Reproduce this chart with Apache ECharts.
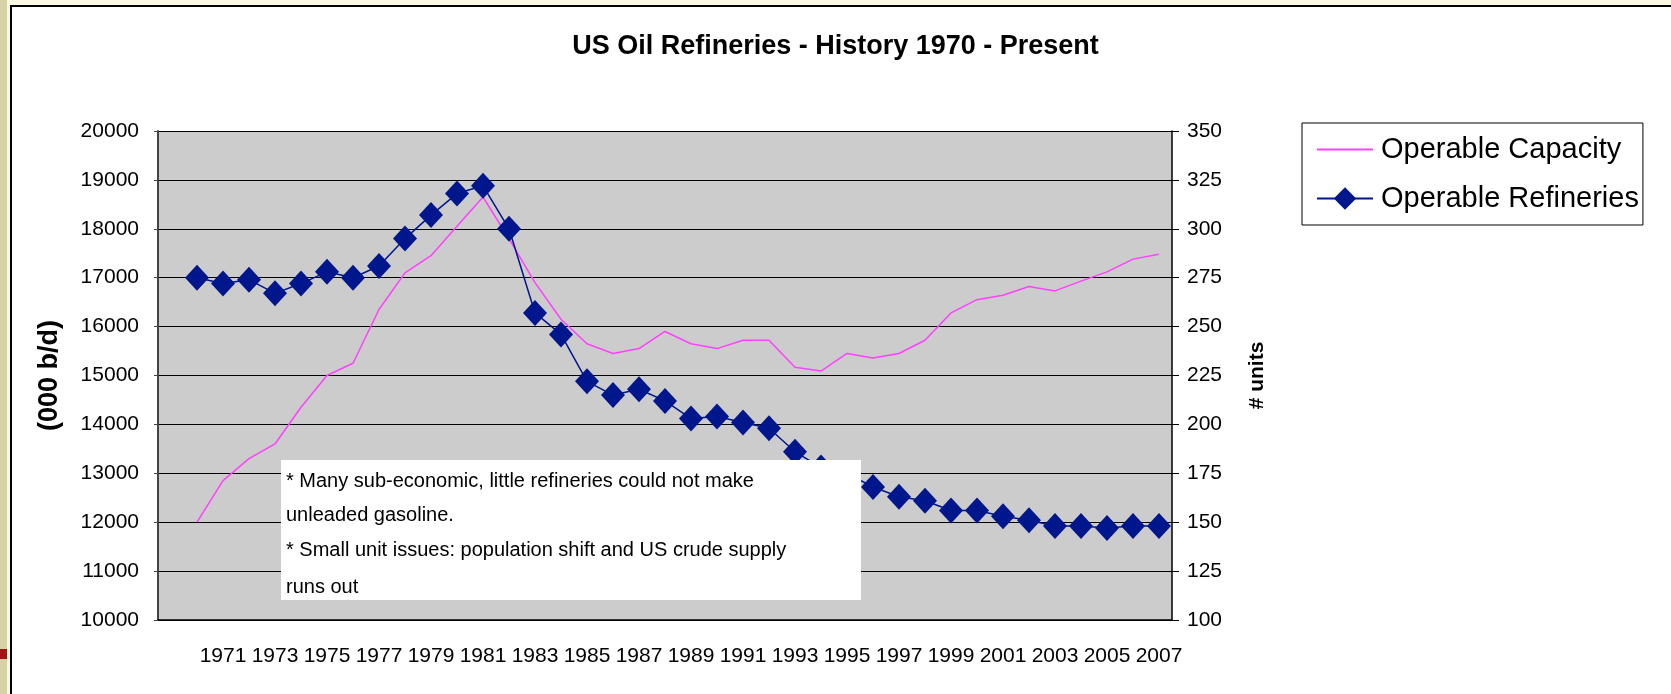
<!DOCTYPE html>
<html>
<head>
<meta charset="utf-8">
<title>US Oil Refineries - History 1970 - Present</title>
<script src="https://cdn.jsdelivr.net/npm/echarts@6/dist/echarts.min.js"></script>
<style>
    html, body { margin: 0; padding: 0; background: #fbf8e1; }
    #main { width: 1671px; height: 694px; }
</style>
</head>
<body>
<div id="main"></div>
<script>
// data
var years = ['1970', '1971', '1972', '1973', '1974', '1975', '1976', '1977', '1978', '1979',
    '1980', '1981', '1982', '1983', '1984', '1985', '1986', '1987', '1988', '1989',
    '1990', '1991', '1992', '1993', '1994', '1995', '1996', '1997', '1998', '1999',
    '2000', '2001', '2002', '2003', '2004', '2005', '2006', '2007'];

// operable capacity, 000 b/d (left axis)
var capacity = [12000, 12850, 13300, 13600, 14350, 15000, 15250, 16350, 17100, 17450,
    18050, 18650, 17800, 16900, 16150, 15650, 15450, 15550, 15900, 15650,
    15550, 15720, 15720, 15170, 15090, 15450, 15360, 15450, 15720, 16280,
    16550, 16640, 16820, 16730, 16930, 17120, 17380, 17480];

// operable refineries, # units (right axis)
var refineries = [275, 272, 274, 267, 272, 278, 275, 281, 295, 307,
    318, 322, 300, 257, 246, 222, 215, 218, 212, 203,
    204, 201, 198, 186, 178, 175, 168, 163, 161, 156,
    156, 153, 151, 148, 148, 147, 148, 148];

var noteLines = [
    '* Many sub-economic, little refineries could not make',
    'unleaded gasoline.',
    '* Small unit issues: population shift and US crude supply',
    'runs out'
];

function initChart() {
    var myChart = echarts.init(document.getElementById('main'));

    // excel leaves an empty slot before the first year
    var cats = [''].concat(years);
    var capData = [null].concat(capacity);
    var refData = [null].concat(refineries);

    var font = 'Liberation Sans, Arial, sans-serif';

    var noteText = noteLines.map(function (t, i) {
        return {
            type: 'text',
            left: 286,
            top: [471, 505, 540, 577][i],
            z: 101,
            style: { text: t, fill: '#000', font: '20px ' + font }
        };
    });

    var plain = function (v) { return String(v); };

    var option = {
        backgroundColor: '#fbf8e1',
        animation: false,
        title: {
            text: 'US Oil Refineries - History 1970 - Present',
            left: 'center',
            top: 33,
            padding: 0,
            textStyle: { fontFamily: font, fontWeight: 'bold', fontSize: 27, color: '#000' }
        },
        legend: {
            orient: 'vertical',
            left: 1302,
            top: 123,
            padding: [12, 4, 12, 14],
            itemGap: 20,
            itemWidth: 56,
            itemHeight: 28,
            borderColor: '#000',
            borderWidth: 1,
            backgroundColor: '#fff',
            textStyle: { fontFamily: font, fontSize: 29, color: '#000', padding: [0, 0, 0, 3] },
            data: [
                { name: 'Operable Capacity', itemStyle: { opacity: 0 } },
                { name: 'Operable Refineries' }
            ]
        },
        grid: {
            left: 158,
            top: 131,
            right: 499,
            bottom: 74,
            show: true,
            backgroundColor: '#cccccc',
            borderWidth: 0,
            outerBoundsMode: 'none'
        },
        xAxis: {
            type: 'category',
            data: cats,
            boundaryGap: true,
            axisLine: { lineStyle: { color: '#000', width: 1.5 } },
            axisTick: { interval: 0, length: 8, lineStyle: { color: '#000' } },
            axisLabel: { interval: 1, margin: 26, color: '#000', fontSize: 21, fontFamily: font }
        },
        yAxis: [{
            type: 'value',
            min: 10000,
            max: 20000,
            interval: 1000,
            name: '(000 b/d)',
            nameLocation: 'middle',
            nameRotate: 90,
            nameGap: 95,
            nameTextStyle: { fontFamily: font, fontWeight: 'bold', fontSize: 27, color: '#000' },
            axisLine: { show: true, lineStyle: { color: '#444', width: 2 } },
            axisTick: { show: true, length: 4, lineStyle: { color: '#444' } },
            axisLabel: { margin: 19, color: '#000', fontSize: 21, fontFamily: font, formatter: plain },
            splitLine: { lineStyle: { color: '#000', width: 1.2 } }
        }, {
            type: 'value',
            position: 'right',
            min: 100,
            max: 350,
            interval: 25,
            name: '# units',
            nameLocation: 'middle',
            nameRotate: 90,
            nameGap: 75,
            nameTextStyle: { fontFamily: font, fontWeight: 'bold', fontSize: 21, color: '#000' },
            axisLine: { show: true, lineStyle: { color: '#000', width: 1.5 } },
            axisTick: { show: true, length: 7, lineStyle: { color: '#000' } },
            axisLabel: { margin: 15, color: '#000', fontSize: 21, fontFamily: font, formatter: plain },
            splitLine: { show: false }
        }],
        series: [{
            name: 'Operable Capacity',
            type: 'line',
            yAxisIndex: 0,
            data: capData,
            symbol: 'none',
            itemStyle: { color: '#ff40ff' },
            lineStyle: { color: '#ff40ff', width: 1.5 },
            z: 2
        }, {
            name: 'Operable Refineries',
            type: 'line',
            yAxisIndex: 1,
            data: refData,
            symbol: 'diamond',
            symbolSize: [24, 26],
            showAllSymbol: true,
            itemStyle: { color: '#00168c' },
            lineStyle: { color: '#00168c', width: 1.5 },
            z: 3
        }],
        graphic: [
            // outer slide frame
            { type: 'rect', shape: { x: 0, y: 0, width: 7, height: 694 }, style: { fill: '#d6d2a6' }, z: -10 },
            { type: 'rect', shape: { x: 0, y: 649, width: 7, height: 10 }, style: { fill: '#a31515' }, z: -9 },
            { type: 'rect', shape: { x: 11, y: 6, width: 1700, height: 720 }, style: { fill: '#fff', stroke: '#000', lineWidth: 2 }, z: -10 },
            // note box
            { type: 'rect', shape: { x: 281, y: 460, width: 580, height: 140 }, style: { fill: '#fff' }, z: 100 }
        ].concat(noteText)
    };

    myChart.setOption(option);
}

initChart();
</script>
</body>
</html>
